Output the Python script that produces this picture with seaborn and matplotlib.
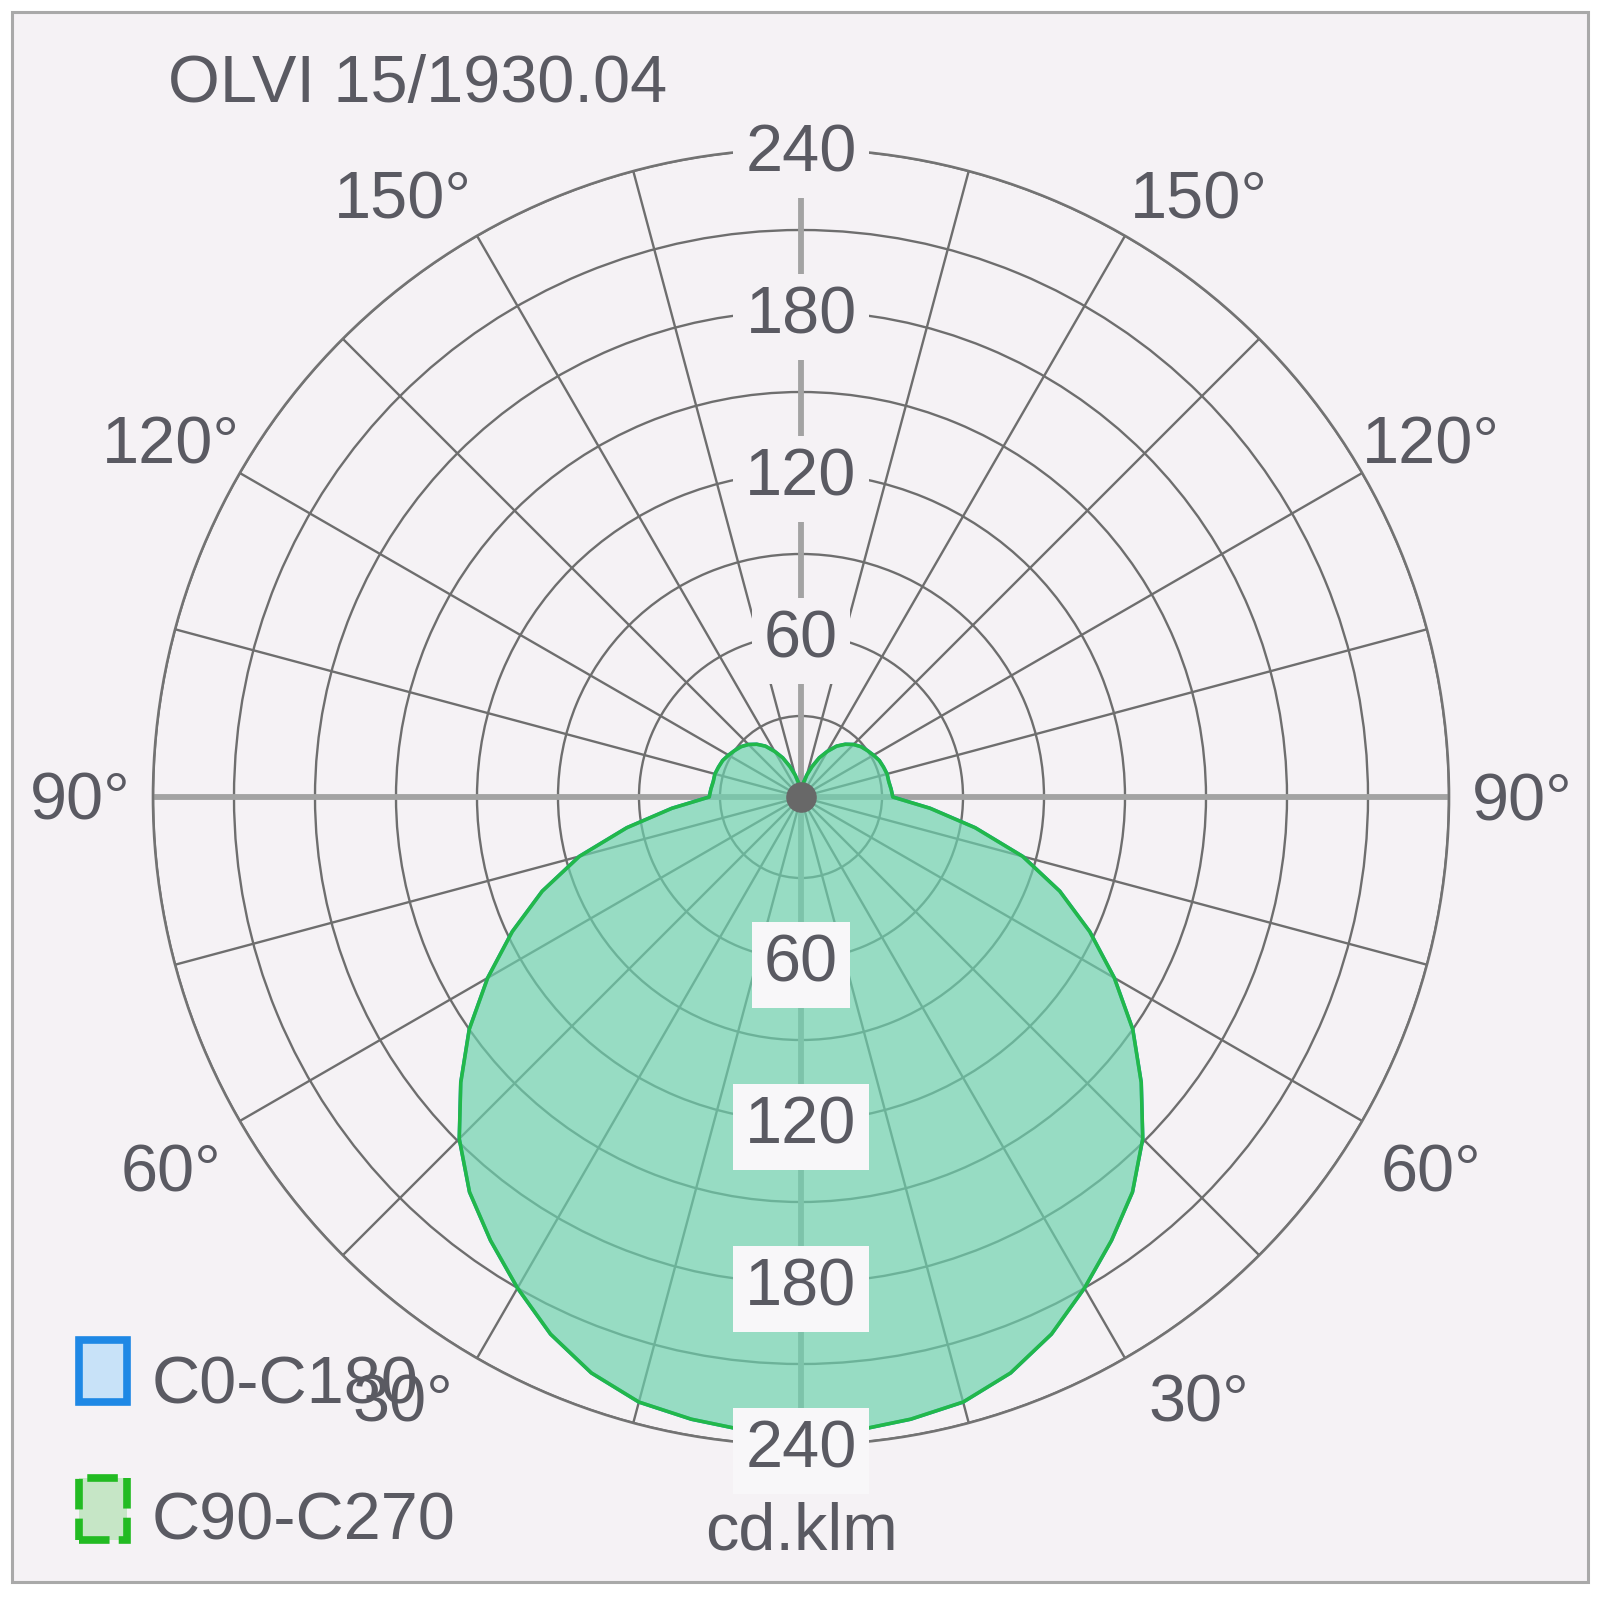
import numpy as np
import pandas as pd
import matplotlib
matplotlib.use("Agg")
import matplotlib.pyplot as plt
import matplotlib.transforms as mtrans
import seaborn as sns
from matplotlib.patches import Rectangle

# ---------------- data ----------------
gamma = [0, 5, 10, 15, 20, 25, 30, 35, 40, 45, 50, 55, 60, 65, 70, 75, 80, 85,
         90, 95, 100, 105, 110, 115, 120, 125, 130, 135, 140, 145, 150, 155, 160,
         165, 170, 175, 180]
c90_c270 = [236, 235.5, 234, 232, 227, 219.5, 210, 200.5, 191, 179, 164.5, 150, 134,
            118, 102, 85, 65.5, 48, 34, 33.5, 33, 33, 32.5, 32, 31, 30, 29, 27.5,
            25.5, 23, 19.5, 16, 12, 8.5, 5.5, 3, 2]
c0_c180 = [236, 235.5, 234, 232, 227, 219.5, 210, 200.5, 191, 179, 164.5, 150, 134,
           118, 102, 85, 65.5, 48, 34, 33.5, 33, 33, 32.5, 32, 31, 30, 29, 27.5,
           25.5, 23, 19.5, 16, 12, 8.5, 5.5, 3, 2]
radial_ticks = [60, 120, 180, 240]
angle_ticks = [30, 60, 90, 120, 150]
series_names = ["C0-C180", "C90-C270"]
title = "OLVI 15/1930.04"
unit = "cd.klm"

# ---------------- style ----------------
sns.set_style("white")
plt.rcParams["font.family"] = ["Liberation Sans", "DejaVu Sans"]
TXT = "#5a5a62"
BG = "#f5f2f5"
FS = 48

W, H = 1600, 1597
fig = plt.figure(figsize=(W / 100, H / 100), dpi=100, facecolor="white")
fig.patches.append(Rectangle((12 / W, 1 - 1582 / H), (1588 - 12) / W, (1582 - 12) / H,
                             transform=fig.transFigure, facecolor=BG,
                             edgecolor="#a9a9a9", lw=2.2, zorder=-5))

cx, cy, R = 801, 797, 648
ax = fig.add_axes([(cx - R) / W, (H - cy - R) / H, 2 * R / W, 2 * R / H], projection="polar")
ax.set_zorder(1)
ax.set_facecolor("none")
ax.set_theta_zero_location("S")
ax.set_theta_direction(1)
ax.set_ylim(0, 240)
ax.set_rgrids(list(range(30, 241, 30)), labels=[])
ax.set_thetagrids([a for a in range(0, 360, 15) if a % 90 != 0], labels=[])
ax.grid(True, color="#6e6e6e", lw=1.7)
ax.set_axisbelow(True)
ax.spines["polar"].set_color("#737373")
ax.spines["polar"].set_linewidth(1.9)
ax.tick_params(length=0)

# main axes (thick light lines)
for a in [0, 90, 180, 270]:
    ax.plot([np.deg2rad(a)] * 2, [0, 240], color="#a3a3a3", lw=4.2, zorder=0.9,
            solid_capstyle="butt")


def full_curve(vals):
    g = np.array(gamma, dtype=float)
    v = np.array(vals, dtype=float)
    th = np.concatenate([np.deg2rad(g), np.deg2rad(360 - g[::-1])[1:]])
    r = np.concatenate([v, v[::-1][1:]])
    return th, r


th0, r0 = full_curve(c0_c180)
th1, r1 = full_curve(c90_c270)

ax.fill(th0, r0, color="#a8d0f0", alpha=0.3, lw=0, zorder=1)
sns.lineplot(x=th0, y=r0, ax=ax, sort=False, estimator=None, color="#1e88e5", lw=2.5, zorder=2)
ax.fill(th1, r1, color="#5ed49d", alpha=0.55, lw=0, zorder=3)
sns.lineplot(x=th1, y=r1, ax=ax, sort=False, estimator=None, color="#22b84a", lw=2.6, zorder=4)
ax.set_xlabel("")
ax.set_ylabel("")
ax.set_ylim(0, 240)

# centre dot
ax.plot([0], [0], "o", ms=21, color="#686868", zorder=6, clip_on=False)

down = mtrans.offset_copy(ax.transData, fig=fig, y=-6, units="dots")
fdown = mtrans.offset_copy(fig.transFigure, fig=fig, y=-5, units="dots")

# radial labels, top and bottom
for v in radial_ticks:
    ax.text(np.pi, v, str(v), ha="center", va="center", fontsize=FS, color=TXT, zorder=7,
            transform=down, bbox=dict(boxstyle="square,pad=0.18", fc=BG, ec="none"))
    ax.text(0, v, str(v), ha="center", va="center", fontsize=FS, color=TXT, zorder=7,
            transform=down, bbox=dict(boxstyle="square,pad=0.18", fc="#f8f7f9", ec="none"))

# angle labels
lab_pos = {30: 33.5, 60: 59.5, 90: 90, 120: 119.5, 150: 146.5}
lab_r = {30: 267, 60: 271, 90: 267, 120: 268, 150: 267}
for a in angle_ticks:
    p = lab_pos[a]
    for t in (p, 360 - p):
        ax.text(np.deg2rad(t), lab_r[a], f"{a}°", ha="center", va="center", fontsize=FS,
                color=TXT, clip_on=False, zorder=7, transform=down)

# title and unit
fig.text(168 / W, 1 - 80 / H, title, ha="left", va="center", fontsize=FS, color=TXT,
         transform=fdown)
fig.text(802 / W, 1 - 1527 / H, unit, ha="center", va="center", fontsize=FS, color=TXT,
         transform=fdown)

# legend
fig.patches.append(Rectangle(((103 - 24) / W, 1 - (1371 + 31) / H), 48 / W, 62 / H,
                             transform=fig.transFigure, facecolor="#c8e2f8",
                             edgecolor="#1e88e5", lw=5.5, zorder=5))
fig.patches.append(Rectangle(((103 - 24) / W, 1 - (1509 + 31) / H), 48 / W, 62 / H,
                             transform=fig.transFigure, facecolor="#c6e6c6",
                             edgecolor="#22bb22", lw=5.5, ls=(0, (4, 1.2)), zorder=5))
fig.text(152 / W, 1 - 1381 / H, series_names[0], ha="left", va="center", fontsize=FS,
         color=TXT, zorder=8, transform=fdown)
fig.text(152 / W, 1 - 1517 / H, series_names[1], ha="left", va="center", fontsize=FS,
         color=TXT, zorder=8, transform=fdown)

fig.savefig("out.png", dpi=100, facecolor="white")
